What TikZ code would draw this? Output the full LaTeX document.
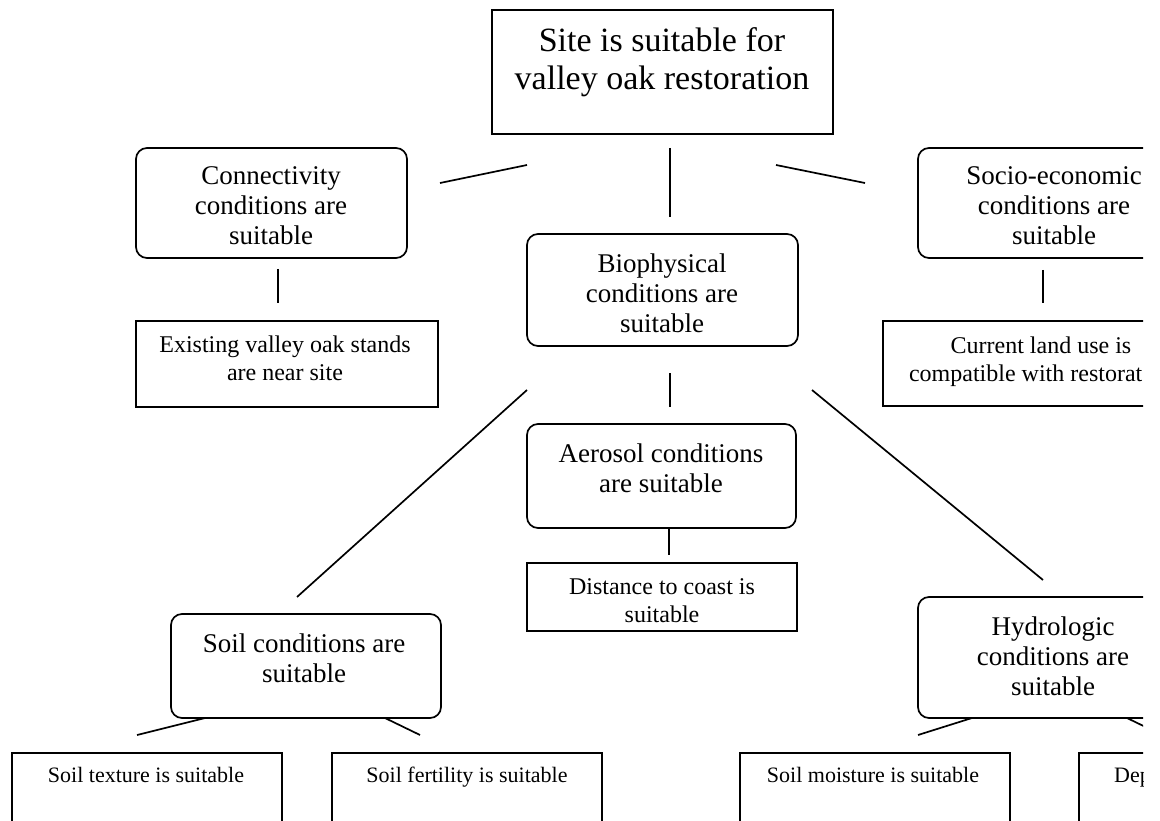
\documentclass[tikz,border=0pt]{standalone}
\usepackage{fontspec}
\setmainfont{Liberation Serif}
\tikzset{
  sqbox/.style={draw, rectangle, inner sep=0pt, line width=1.7pt},
  rdbox/.style={draw, rectangle, rounded corners=11pt, inner sep=0pt, line width=1.7pt},
  lbl/.style={align=center, inner sep=0pt, anchor=base},
  fTitle/.style={font=\fontsize{34}{38}\selectfont},
  fMid/.style={font=\fontsize{27}{30}\selectfont},
  fSmall/.style={font=\fontsize{24}{28}\selectfont},
  fBot/.style={font=\fontsize{22}{26}\selectfont},
  conn/.style={line width=1.7pt}
}
\begin{document}
\begin{tikzpicture}[x=1pt,y=-1pt]
\fill[white] (0,0) rectangle (1160,821);
\useasboundingbox (0,0) rectangle (1160,821);
\clip (0,0) rectangle (1143,821);

% boxes
\node[sqbox, minimum width=341pt, minimum height=124pt] (title) at (662.5,72) {};
\node[rdbox, minimum width=271pt, minimum height=110pt] (connect) at (271.5,203) {};
\node[rdbox, minimum width=272pt, minimum height=110pt] (socio) at (1054,203) {};
\node[rdbox, minimum width=271pt, minimum height=112pt] (bio) at (662.5,290) {};
\node[sqbox, minimum width=302pt, minimum height=86pt] (exist) at (287,364) {};
\node[sqbox, minimum width=320pt, minimum height=85pt] (current) at (1043,363.5) {};
\node[rdbox, minimum width=269pt, minimum height=104pt] (aero) at (661.5,476) {};
\node[sqbox, minimum width=270pt, minimum height=68pt] (dist) at (662,597) {};
\node[rdbox, minimum width=270pt, minimum height=104pt] (soil) at (306,666) {};
\node[rdbox, minimum width=270pt, minimum height=121pt] (hydro) at (1053,657.5) {};
\node[sqbox, minimum width=270pt, minimum height=69pt] (texture) at (147,787.5) {};
\node[sqbox, minimum width=270pt, minimum height=69pt] (fertility) at (467,787.5) {};
\node[sqbox, minimum width=270pt, minimum height=69pt] (moisture) at (875,787.5) {};
\node[sqbox, minimum width=270pt, minimum height=69pt] (dep) at (1214,787.5) {};

% texts (anchor = baseline of last line)
\node[lbl, fTitle] (titleT) at (662,90) {Site is suitable for\\valley oak restoration};
\node[lbl, fMid] (connectT) at (271,245) {Connectivity\\conditions are\\suitable};
\node[lbl, fMid] (socioT) at (1054,245) {Socio-economic\\conditions are\\suitable};
\node[lbl, fMid] (bioT) at (662,332) {Biophysical\\conditions are\\suitable};
\node[lbl, fSmall] (existT) at (285,380) {Existing valley oak stands\\are near site};
\node[lbl, fSmall] (currentT) at (1041,381) {Current land use is\\compatible with restorat\phantom{ion}};
\node[lbl, fMid] (aeroT) at (661,492) {Aerosol conditions\\are suitable};
\node[lbl, fSmall] (distT) at (662,622) {Distance to coast is\\suitable};
\node[lbl, fMid] (soilT) at (304,682) {Soil conditions are\\suitable};
\node[lbl, fMid] (hydroT) at (1053,695) {Hydrologic\\conditions are\\suitable};
\node[lbl, fBot] (textureT) at (146,782) {Soil texture is suitable};
\node[lbl, fBot] (fertilityT) at (467,782) {Soil fertility is suitable};
\node[lbl, fBot] (moistureT) at (873,782) {Soil moisture is suitable};
\node[lbl, fBot, anchor=base west] (depT) at (1114,782) {Dep};

% connector ends
\coordinate (a1) at (440,183); \coordinate (a2) at (527,165);
\coordinate (b1) at (670,148); \coordinate (b2) at (670,217);
\coordinate (c1) at (776,165); \coordinate (c2) at (865,183);
\coordinate (d1) at (278,269); \coordinate (d2) at (278,303);
\coordinate (e1) at (1043,270); \coordinate (e2) at (1043,303);
\coordinate (f1) at (527,390); \coordinate (f2) at (297,597);
\coordinate (g1) at (670,373); \coordinate (g2) at (670,407);
\coordinate (h1) at (812,390); \coordinate (h2) at (1043,580);
\coordinate (i1) at (669,529); \coordinate (i2) at (669,555);
\coordinate (j1) at (205,718); \coordinate (j2) at (137,735);
\coordinate (k1) at (385,718); \coordinate (k2) at (420,735);
\coordinate (l1) at (972,718); \coordinate (l2) at (918,735);
\coordinate (m1) at (1127,718); \coordinate (m2) at (1162,735);

\draw[conn] (a1) -- (a2);
\draw[conn] (b1) -- (b2);
\draw[conn] (c1) -- (c2);
\draw[conn] (d1) -- (d2);
\draw[conn] (e1) -- (e2);
\draw[conn] (f1) -- (f2);
\draw[conn] (g1) -- (g2);
\draw[conn] (h1) -- (h2);
\draw[conn] (i1) -- (i2);
\draw[conn] (j1) -- (j2);
\draw[conn] (k1) -- (k2);
\draw[conn] (l1) -- (l2);
\draw[conn] (m1) -- (m2);
\end{tikzpicture}
\end{document}
